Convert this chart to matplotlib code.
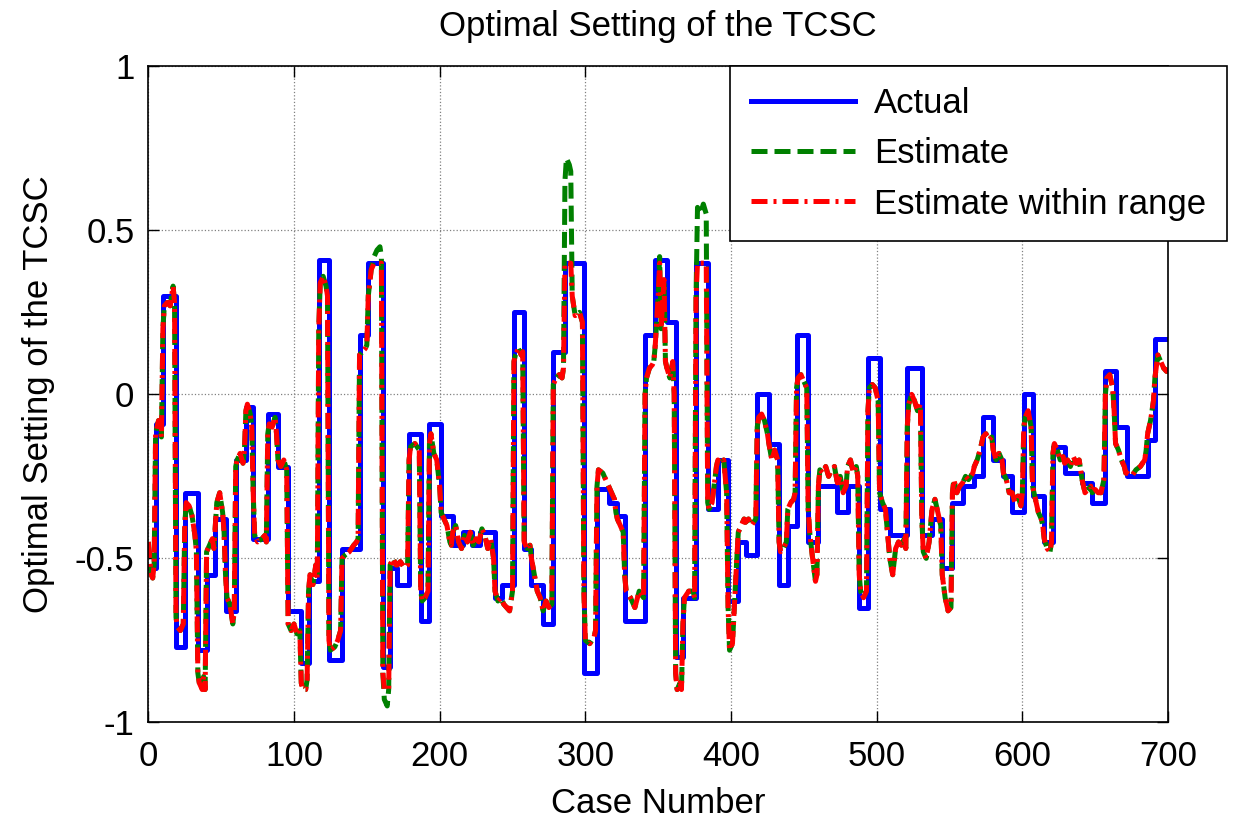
import numpy as np
import matplotlib.pyplot as plt

# actual optimal setting, piecewise constant (value holds from each start case)
act_start = [0, 5, 10, 19, 25, 34, 40, 46, 53, 60, 67, 72, 82, 89, 96, 105, 110,
             117, 124, 133, 145, 151, 161, 166, 171, 179, 187, 193, 201, 209, 216,
             222, 228, 238, 243, 251, 258, 263, 271, 278, 286, 299, 308, 316, 322,
             327, 341, 348, 356, 362, 367, 376, 384, 391, 398, 405, 410, 418, 426,
             433, 439, 445, 453, 460, 473, 480, 488, 494, 502, 509, 521, 531, 538,
             545, 552, 559, 567, 573, 580, 587, 593, 601, 607, 615, 621, 629, 641,
             648, 657, 664, 672, 686, 691]
act_value = [-0.53, -0.09, 0.30, -0.77, -0.30, -0.78, -0.55, -0.38, -0.66, -0.20,
             -0.04, -0.44, -0.06, -0.22, -0.66, -0.82, -0.57, 0.41, -0.81, -0.47,
             0.18, 0.40, -0.83, -0.53, -0.58, -0.12, -0.69, -0.09, -0.37, -0.46,
             -0.42, -0.46, -0.42, -0.62, -0.58, 0.25, -0.47, -0.58, -0.70, 0.13,
             0.40, -0.85, -0.29, -0.33, -0.37, -0.69, 0.18, 0.41, 0.22, -0.80,
             -0.62, 0.40, -0.35, -0.20, -0.63, -0.45, -0.49, 0.00, -0.15, -0.58,
             -0.40, 0.18, -0.45, -0.28, -0.36, -0.28, -0.65, 0.11, -0.35, -0.43,
             0.08, -0.43, -0.38, -0.53, -0.33, -0.28, -0.25, -0.07, -0.20, -0.25,
             -0.36, 0.00, -0.31, -0.45, -0.16, -0.24, -0.27, -0.33, 0.07, -0.10,
             -0.25, -0.14, 0.17]
last_case = 700

# estimated setting (case, value)
est_points = [
    (0, -0.45), (1, -0.50), (2, -0.55), (3, -0.56), (4, -0.52),
    (5, -0.12), (6, -0.10), (7, -0.08), (8, -0.09), (9, -0.13),
    (10, 0.20), (11, 0.27), (13, 0.28), (15, 0.27), (17, 0.33), (18, 0.28),
    (19, -0.68), (20, -0.71), (22, -0.72), (24, -0.70),
    (25, -0.40), (26, -0.33), (28, -0.34), (30, -0.37), (32, -0.43), (33, -0.48),
    (34, -0.85), (35, -0.88), (37, -0.90), (38, -0.86), (39, -0.90),
    (40, -0.48), (42, -0.46), (44, -0.44), (45, -0.47),
    (46, -0.40), (47, -0.33), (49, -0.30), (51, -0.36), (52, -0.42),
    (53, -0.55), (54, -0.62), (56, -0.64), (58, -0.70), (59, -0.66),
    (60, -0.22), (61, -0.20), (63, -0.18), (65, -0.21), (66, -0.17),
    (67, -0.05), (68, -0.03), (70, -0.06), (71, -0.10),
    (72, -0.30), (73, -0.43), (75, -0.45), (78, -0.44), (80, -0.43), (81, -0.45),
    (82, -0.12), (83, -0.09), (85, -0.10), (87, -0.07), (88, -0.12),
    (89, -0.20), (91, -0.22), (93, -0.20), (95, -0.23),
    (96, -0.70), (98, -0.72), (100, -0.70), (102, -0.73), (104, -0.72),
    (105, -0.88), (106, -0.90), (108, -0.90), (109, -0.87),
    (110, -0.60), (111, -0.55), (113, -0.58), (115, -0.52), (116, -0.56),
    (117, 0.20), (118, 0.34), (120, 0.36), (122, 0.33), (123, 0.30),
    (124, -0.75), (125, -0.78), (128, -0.77), (130, -0.75), (132, -0.72),
    (133, -0.50), (135, -0.49), (138, -0.48), (141, -0.46), (143, -0.45), (144, -0.44),
    (145, 0.12), (147, 0.13), (149, 0.14), (150, 0.15),
    (151, 0.30), (153, 0.38), (155, 0.42), (157, 0.44), (159, 0.45), (160, 0.42),
    (161, -0.85), (162, -0.93), (164, -0.95), (165, -0.90),
    (166, -0.52), (168, -0.50), (170, -0.52),
    (171, -0.52), (173, -0.51), (176, -0.53), (178, -0.52),
    (179, -0.20), (180, -0.16), (183, -0.15), (186, -0.17),
    (187, -0.60), (188, -0.63), (190, -0.62), (192, -0.60),
    (193, -0.15), (194, -0.12), (196, -0.18), (198, -0.20), (200, -0.28),
    (201, -0.36), (203, -0.38), (205, -0.40), (207, -0.45), (208, -0.46),
    (209, -0.42), (211, -0.40), (213, -0.45), (215, -0.47), (217, -0.43),
    (219, -0.45), (221, -0.42), (223, -0.46), (225, -0.44), (227, -0.45),
    (229, -0.41), (231, -0.43), (233, -0.47), (235, -0.44), (237, -0.50),
    (238, -0.60), (240, -0.63), (242, -0.62), (244, -0.64), (246, -0.65), (248, -0.66), (250, -0.60),
    (251, 0.10), (252, 0.12), (254, 0.14), (256, 0.12), (257, 0.13),
    (258, -0.45), (260, -0.47), (262, -0.46),
    (263, -0.50), (265, -0.55), (267, -0.60), (269, -0.62), (270, -0.64),
    (271, -0.66), (273, -0.63), (275, -0.65), (277, -0.64),
    (278, 0.03), (280, 0.05), (282, 0.06), (284, 0.05), (285, 0.08),
    (286, 0.65), (287, 0.72), (289, 0.70), (290, 0.68), (291, 0.30), (293, 0.24), (296, 0.25), (298, 0.22),
    (299, -0.60), (300, -0.75), (303, -0.76), (306, -0.74), (307, -0.72),
    (308, -0.28), (309, -0.23), (312, -0.24), (315, -0.27),
    (316, -0.28), (318, -0.30), (320, -0.32), (321, -0.36),
    (322, -0.38), (324, -0.40), (326, -0.42),
    (327, -0.55), (328, -0.60), (331, -0.62), (334, -0.65), (337, -0.60), (340, -0.62),
    (341, 0.00), (342, 0.05), (344, 0.08), (346, 0.09), (347, 0.10),
    (348, 0.15), (350, 0.30), (351, 0.42), (352, 0.20), (354, 0.35), (355, 0.10),
    (356, 0.08), (358, 0.05), (360, 0.10), (361, 0.00),
    (362, -0.85), (363, -0.90), (365, -0.88), (366, -0.90),
    (367, -0.70), (368, -0.62), (371, -0.60), (374, -0.60), (375, -0.62),
    (376, 0.30), (377, 0.57), (379, 0.55), (381, 0.58), (383, 0.55),
    (384, -0.33), (385, -0.35), (387, -0.33), (390, -0.22),
    (391, -0.20), (393, -0.21), (395, -0.20), (397, -0.30),
    (398, -0.65), (399, -0.78), (401, -0.76), (404, -0.50),
    (405, -0.42), (407, -0.40), (409, -0.38),
    (410, -0.39), (412, -0.38), (414, -0.40), (417, -0.38),
    (418, -0.10), (419, -0.07), (421, -0.06), (423, -0.08), (425, -0.12),
    (426, -0.15), (428, -0.20), (430, -0.17), (432, -0.20),
    (433, -0.45), (434, -0.48), (436, -0.47), (438, -0.45),
    (439, -0.35), (441, -0.33), (443, -0.32), (444, -0.30),
    (445, 0.02), (446, 0.05), (448, 0.06), (450, 0.04), (452, 0.02),
    (453, -0.35), (454, -0.42), (456, -0.50), (458, -0.57), (459, -0.55),
    (460, -0.28), (461, -0.23), (463, -0.24), (465, -0.22), (467, -0.25), (469, -0.23), (471, -0.22),
    (473, -0.27), (475, -0.25), (477, -0.30), (479, -0.28),
    (480, -0.22), (482, -0.20), (484, -0.24), (486, -0.22), (487, -0.25),
    (488, -0.55), (489, -0.60), (491, -0.62), (493, -0.60),
    (494, -0.05), (495, 0.02), (497, 0.03), (499, 0.02), (501, -0.02),
    (502, -0.30), (504, -0.33), (506, -0.35), (508, -0.45),
    (509, -0.50), (511, -0.55), (513, -0.47), (515, -0.45), (517, -0.46), (519, -0.44), (520, -0.47),
    (521, -0.10), (522, -0.03), (524, 0.00), (526, -0.02), (528, -0.05), (530, -0.03),
    (531, -0.38), (532, -0.48), (534, -0.50), (536, -0.45), (537, -0.40),
    (538, -0.35), (540, -0.32), (542, -0.36), (544, -0.40),
    (545, -0.55), (547, -0.62), (549, -0.66), (551, -0.65),
    (552, -0.30), (553, -0.26), (555, -0.30), (557, -0.28),
    (559, -0.27), (561, -0.25), (563, -0.26), (566, -0.24),
    (567, -0.22), (569, -0.20), (571, -0.17),
    (573, -0.13), (575, -0.12), (577, -0.14), (579, -0.13),
    (580, -0.17), (582, -0.20), (584, -0.18), (586, -0.20),
    (587, -0.24), (589, -0.26), (591, -0.30),
    (593, -0.30), (595, -0.33), (597, -0.31), (599, -0.34), (600, -0.30),
    (601, -0.10), (602, -0.07), (604, -0.05), (606, -0.10),
    (607, -0.28), (609, -0.32), (611, -0.36), (613, -0.38), (614, -0.40),
    (615, -0.44), (617, -0.47), (619, -0.48), (620, -0.45),
    (621, -0.18), (622, -0.15), (624, -0.17), (626, -0.20), (628, -0.19),
    (629, -0.21), (631, -0.20), (633, -0.22), (635, -0.19), (637, -0.21), (639, -0.20), (640, -0.23),
    (641, -0.26), (643, -0.30), (645, -0.29), (647, -0.28),
    (648, -0.30), (650, -0.29), (652, -0.30), (654, -0.30), (656, -0.26),
    (657, 0.00), (658, 0.05), (660, 0.06), (662, 0.02), (663, -0.05),
    (664, -0.15), (666, -0.17), (668, -0.20), (670, -0.22), (671, -0.24),
    (672, -0.24), (675, -0.25), (678, -0.23), (681, -0.22), (684, -0.20), (685, -0.17),
    (686, -0.12), (688, -0.08), (690, -0.02),
    (691, 0.05), (693, 0.12), (695, 0.10), (697, 0.08), (699, 0.07), (700, 0.08),
]
est_case = [p[0] for p in est_points]
est_value = [p[1] for p in est_points]

# allowed range of the TCSC setting
range_low, range_high = -0.9, 0.4

plt.rcParams['font.family'] = ['Liberation Sans', 'DejaVu Sans']
fs = 25

fig = plt.figure(figsize=(12.36, 8.19), dpi=100)
ax = fig.add_axes([0.12, 0.118, 0.825, 0.801])

ax.step(act_start + [last_case], act_value + [act_value[-1]], where='post',
        color='#0000FF', lw=3.6, label='Actual')
ax.plot(est_case, est_value, color='#008000', lw=3.6, ls=(0, (3.2, 1.4)),
        label='Estimate')
ax.plot(est_case, np.clip(est_value, range_low, range_high), color='#FF0000',
        lw=3.6, ls=(0, (3.2, 1.2, 0.6, 1.2)), label='Estimate within range')

ax.set_xlim(0, 700)
ax.set_ylim(-1, 1)
ax.set_xticks(range(0, 701, 100))
ax.set_yticks([-1, -0.5, 0, 0.5, 1])
ax.set_yticklabels(['-1', '-0.5', '0', '0.5', '1'])
ax.grid(True, color='#808080', ls=':', lw=0.9)
ax.tick_params(direction='in', top=True, right=True, length=8, width=1,
               labelsize=fs)
ax.tick_params(axis='x', pad=13)
ax.tick_params(axis='y', pad=10)
for s in ax.spines.values():
    s.set_linewidth(1.2)

ax.set_title('Optimal Setting of the TCSC', fontsize=fs, pad=22)
ax.set_xlabel('Case Number', fontsize=fs, labelpad=10)
ax.set_ylabel('Optimal Setting of the TCSC', fontsize=fs, labelpad=14)

leg = ax.legend(loc='upper left', bbox_to_anchor=(730 / 1236, 1 - 66 / 819),
                bbox_transform=fig.transFigure, fontsize=fs, fancybox=False,
                edgecolor='black', framealpha=1, handlelength=3.0,
                handletextpad=0.55, labelspacing=0.5, borderpad=0.6,
                borderaxespad=0)
leg.get_frame().set_linewidth(1.2)

fig.savefig('out.png', dpi=100)
